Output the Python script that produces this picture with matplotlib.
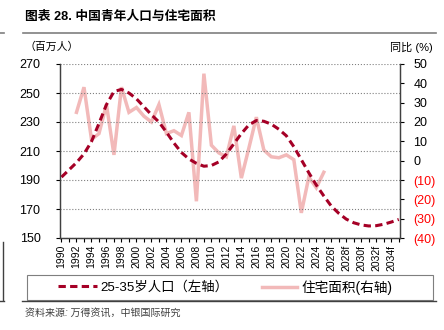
import matplotlib.pyplot as plt
from matplotlib.lines import Line2D
from matplotlib.patches import Rectangle
from matplotlib.ticker import FixedLocator

plt.rcParams['font.family'] = ['Liberation Sans', 'Noto Sans CJK SC', 'DejaVu Sans']

# 25-35岁人口（百万人），1990-2035
pop_years = list(range(1990, 2036))
pop = [192, 197, 202, 208, 216.5, 229, 242, 251, 252.5, 250,
       246, 240.5, 235, 230, 223, 215.5, 209, 204.5, 201.5, 199.5,
       200, 202.5, 208, 215, 222, 228, 231, 230.5, 228.5, 225,
       220.5, 213, 204, 195, 186.5, 179, 172, 167, 163, 160.5,
       159, 158.3, 158.5, 159.5, 161, 162.8]

# 住宅面积同比（%），1992-2025
house_years = list(range(1992, 2026))
house = [25, 38, 11, 14, 29, 3, 38, 25, 27.5, 23,
         20, 29, 14, 15.5, 13, 25, -21, 45, 8, 4,
         2, 18, -9, 6.5, 22.5, 5.5, 2, 1.5, 3, 0.5,
         -27, -8.5, -14, -6]

label_years = list(range(1990, 2035, 2))
x_labels = [str(y) if y < 2026 else f"{y}f" for y in label_years]

left_ticks = list(range(150, 271, 20))
right_ticks = list(range(-40, 51, 10))

dark_red = '#A50026'
pink = '#F2B9B9'

W, H = 444, 330
fig = plt.figure(figsize=(W / 100, H / 100), dpi=100)
ax = fig.add_axes([60 / W, 1 - 238 / H, 339.5 / W, 174 / H])
ax2 = ax.twinx()
ax.set_zorder(ax2.get_zorder() + 1)
ax.patch.set_visible(False)

ax2.plot(house_years, house, color=pink, lw=2.5, solid_joinstyle='miter')
ax.plot(pop_years, pop, color=dark_red, lw=2.2, dashes=(2.4, 1.4))

ax.set_xlim(1989.8, 2035.1)
ax.set_ylim(150, 270)
ax2.set_ylim(-40, 50)

ax.set_yticks(left_ticks)
ax.set_yticklabels([str(v) for v in left_ticks])
ax2.set_yticks(right_ticks)
ax2.set_yticklabels([str(v) if v >= 0 else f"({-v})" for v in right_ticks])
for lab, v in zip(ax2.get_yticklabels(), right_ticks):
    if v < 0:
        lab.set_color('#FF0000')

ax.set_xticks(label_years)
ax.set_xticklabels(x_labels, rotation=90)
ax.xaxis.set_minor_locator(FixedLocator(list(range(1991, 2036, 2))))

ax.yaxis.grid(True, linestyle=':', color='#808080', lw=0.8)
ax.set_axisbelow(True)

for a in (ax, ax2):
    a.spines['top'].set_visible(False)
    for s in a.spines.values():
        s.set_color('#404040')
        s.set_linewidth(0.9)

ax.tick_params(axis='y', direction='out', length=3, width=0.8, pad=11, labelsize=9)
ax2.tick_params(axis='y', direction='out', length=3, width=0.8, pad=7, labelsize=9)
ax.tick_params(axis='x', which='both', direction='out', length=3, width=0.8, pad=2, labelsize=7.5)

# 标题、单位
fig.text(25 / W, 1 - 17 / H, '图表 28. 中国青年人口与住宅面积', fontsize=9.2, fontweight='bold',
         va='center', ha='left')
fig.text(25 / W, 1 - 47 / H, '（百万人）', fontsize=7.8, va='center', ha='left')
fig.text(433 / W, 1 - 47 / H, '同比 (%)', fontsize=8, va='center', ha='right')
fig.text(25 / W, 1 - 313 / H, '资料来源: 万得资讯，中银国际研究', fontsize=7.2, va='center',
         ha='left', color='#404040', style='italic')

# 分隔线
fig.add_artist(Line2D([22.5 / W, 436 / W], [1 - 32.5 / H] * 2, color='#7f7f7f', lw=1.2))
fig.add_artist(Line2D([22 / W, 436 / W], [1 - 301 / H] * 2, color='#404040', lw=1))
fig.add_artist(Line2D([0, 4 / W], [1 - 32.5 / H] * 2, color='#7f7f7f', lw=1.2))
fig.add_artist(Line2D([0, 4 / W], [1 - 301 / H] * 2, color='#404040', lw=1))
fig.add_artist(Line2D([3 / W, 3 / W], [1 - 242 / H, 1 - 300 / H], color='#404040', lw=1))

# 图例
fig.add_artist(Rectangle((27 / W, 1 - 300 / H), 406 / W, 25 / H, transform=fig.transFigure,
                         fill=False, edgecolor='#7f7f7f', lw=0.8))
h_pop = Line2D([], [], color=dark_red, lw=2.2, dashes=(2.4, 1.4))
h_house = Line2D([], [], color=pink, lw=2.5)
leg_y = 1 - 287.5 / H
fig.legend([h_pop], ['25-35岁人口（左轴）'], loc='center left', bbox_to_anchor=(58 / W, leg_y),
           frameon=False, fontsize=9.6, handlelength=2.9, handletextpad=0.3,
           borderpad=0, borderaxespad=0)
fig.legend([h_house], ['住宅面积(右轴)'], loc='center left', bbox_to_anchor=(262 / W, leg_y),
           frameon=False, fontsize=9.8, handlelength=2.6, handletextpad=0.3,
           borderpad=0, borderaxespad=0)

fig.savefig('out.png', dpi=100)
